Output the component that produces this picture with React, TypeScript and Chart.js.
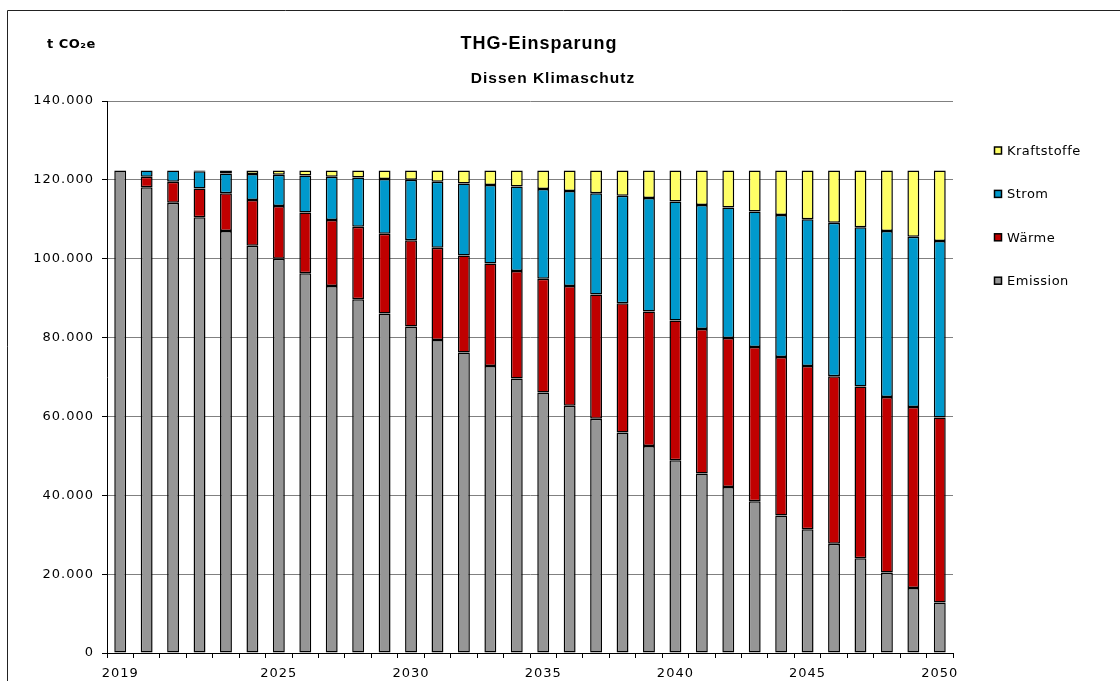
import React, { useEffect, useRef } from 'react';
import { Chart, registerables } from 'chart.js';

Chart.register(...registerables);

const years = [
  '2019', '2020', '2021', '2022', '2023', '2024', '2025', '2026', '2027', '2028', '2029',
  '2030', '2031', '2032', '2033', '2034', '2035', '2036', '2037', '2038', '2039', '2040',
  '2041', '2042', '2043', '2044', '2045', '2046', '2047', '2048', '2049', '2050',
];

const shownYears = ['2019', '2025', '2030', '2035', '2040', '2045', '2050'];

const emission = [
  122400, 118100, 114200, 110500, 107000, 103300, 100000, 96300, 93100, 89700, 86100,
  82800, 79400, 76200, 72800, 69600, 66100, 62700, 59400, 55900, 52500, 48900,
  45500, 42100, 38500, 34900, 31400, 27700, 24000, 20400, 16500, 12800,
];
const waerme = [
  0, 2700, 5300, 7300, 9600, 11600, 13400, 15400, 16700, 18400, 20200,
  21900, 23400, 24600, 26000, 27300, 28800, 30400, 31500, 32800, 34100, 35400,
  36700, 37800, 39100, 40200, 41400, 42500, 43600, 44500, 45900, 46900,
];
const strom = [
  0, 1600, 2900, 4400, 5000, 6600, 7900, 9400, 11000, 12500, 13900,
  15300, 16700, 18300, 19900, 21400, 22800, 24100, 25700, 27300, 28800, 30200,
  31400, 33100, 34400, 36000, 37200, 38900, 40400, 42100, 43200, 44800,
];
const kraftstoffe = [
  0, 0, 0, 200, 800, 900, 1100, 1300, 1600, 1800, 2200,
  2400, 2900, 3300, 3700, 4100, 4700, 5200, 5800, 6400, 7000, 7900,
  8800, 9400, 10400, 11300, 12400, 13300, 14400, 15400, 16800, 17900,
];

const seriesNames = ['Emission', 'Wärme', 'Strom', 'Kraftstoffe'];
const seriesData = [emission, waerme, strom, kraftstoffe];
const seriesColors = ['#969696', '#C00000', '#0099CC', '#FFFF66'];

const titleText = 'THG-Einsparung';
const subtitleText = 'Dissen Klimaschutz';
const unitText = 't CO₂e';

function fmt(v: number): string {
  return String(v).replace(/\B(?=(\d{3})+(?!\d))/g, '.');
}

const decorPlugin = {
  id: 'decor',
  beforeDraw(chart: any) {
    (chart.ctx as any).letterSpacing = '1px';
  },
  afterDraw(chart: any) {
    const ctx = chart.ctx as CanvasRenderingContext2D & { letterSpacing?: string };
    ctx.save();
    // frame
    ctx.strokeStyle = '#222';
    ctx.lineWidth = 1;
    ctx.beginPath();
    ctx.moveTo(7.5, 690);
    ctx.lineTo(7.5, 10.5);
    ctx.lineTo(1120, 10.5);
    ctx.stroke();

    ctx.fillStyle = '#000';
    ctx.textBaseline = 'alphabetic';

    // title
    ctx.letterSpacing = '1px';
    ctx.textAlign = 'center';
    ctx.font = 'bold 18px "Liberation Sans", Arial, sans-serif';
    ctx.fillText(titleText, 539, 49);
    ctx.font = 'bold 15.5px "Liberation Sans", Arial, sans-serif';
    ctx.fillText(subtitleText, 553, 83);

    // unit
    ctx.textAlign = 'left';
    ctx.letterSpacing = '0.5px';
    ctx.font = 'bold 13px "DejaVu Sans", sans-serif';
    ctx.fillText(unitText, 47, 48);

    // legend
    ctx.letterSpacing = '0.5px';
    ctx.font = '13px "DejaVu Sans", sans-serif';
    ctx.textBaseline = 'middle';
    const order = [3, 2, 1, 0];
    order.forEach((idx, k) => {
      const cy = 150.5 + k * 43.4;
      ctx.fillStyle = seriesColors[idx];
      ctx.fillRect(994.5, cy - 3.5, 7, 7);
      ctx.strokeStyle = '#000';
      ctx.lineWidth = 1.5;
      ctx.strokeRect(994.5, cy - 3.5, 7, 7);
      ctx.fillStyle = '#000';
      ctx.fillText(seriesNames[idx], 1007, cy + 1);
    });
    ctx.restore();
  },
};

export default function App() {
  const canvasRef = useRef<HTMLCanvasElement | null>(null);

  useEffect(() => {
    const canvas = canvasRef.current;
    if (!canvas) return;
    const tickFont = { family: '"DejaVu Sans", sans-serif', size: 13 };
    const chart = new Chart(canvas, {
      type: 'bar',
      data: {
        labels: years,
        datasets: seriesNames.map((name, i) => ({
          label: name,
          data: seriesData[i].map((v) => (v === 0 ? null : v)),
          backgroundColor: seriesColors[i],
          borderColor: '#000',
          borderWidth: 1.5,
          borderSkipped: false,
          inflateAmount: 0,
          barPercentage: 0.45,
          categoryPercentage: 1,
        })),
      },
      options: {
        responsive: false,
        animation: false,
        devicePixelRatio: 1,
        layout: { padding: { left: 0, right: 167, top: 101, bottom: 0 } },
        plugins: {
          legend: { display: false },
          title: { display: false },
          tooltip: { enabled: false },
        },
        scales: {
          x: {
            stacked: true,
            grid: {
              offset: true,
              drawOnChartArea: false,
              drawTicks: true,
              tickLength: 5,
              tickColor: '#000',
            },
            border: { color: '#000', width: 1 },
            ticks: {
              autoSkip: false,
              maxRotation: 0,
              minRotation: 0,
              padding: 8,
              color: '#000',
              font: tickFont,
              callback: (_v: any, i: number) => (shownYears.includes(years[i]) ? years[i] : ''),
            },
            afterFit: (s: any) => {
              s.height = 28;
            },
          },
          y: {
            stacked: true,
            min: 0,
            max: 140000,
            ticks: {
              stepSize: 20000,
              padding: 8,
              color: '#000',
              font: tickFont,
              callback: (v: any) => fmt(Number(v)),
            },
            grid: { color: '#808080', tickLength: 5, tickColor: '#000' },
            border: { color: '#000', width: 1 },
            afterFit: (s: any) => {
              s.width = 107;
            },
          },
        },
      },
      plugins: [decorPlugin],
    } as any);
    return () => chart.destroy();
  }, []);

  return (
    <div style={{ position: 'fixed', left: 0, top: 0, width: 1120, height: 681, background: '#fff', overflow: 'hidden' }}>
      <canvas ref={canvasRef} width={1120} height={681} style={{ display: 'block' }} />
    </div>
  );
}
